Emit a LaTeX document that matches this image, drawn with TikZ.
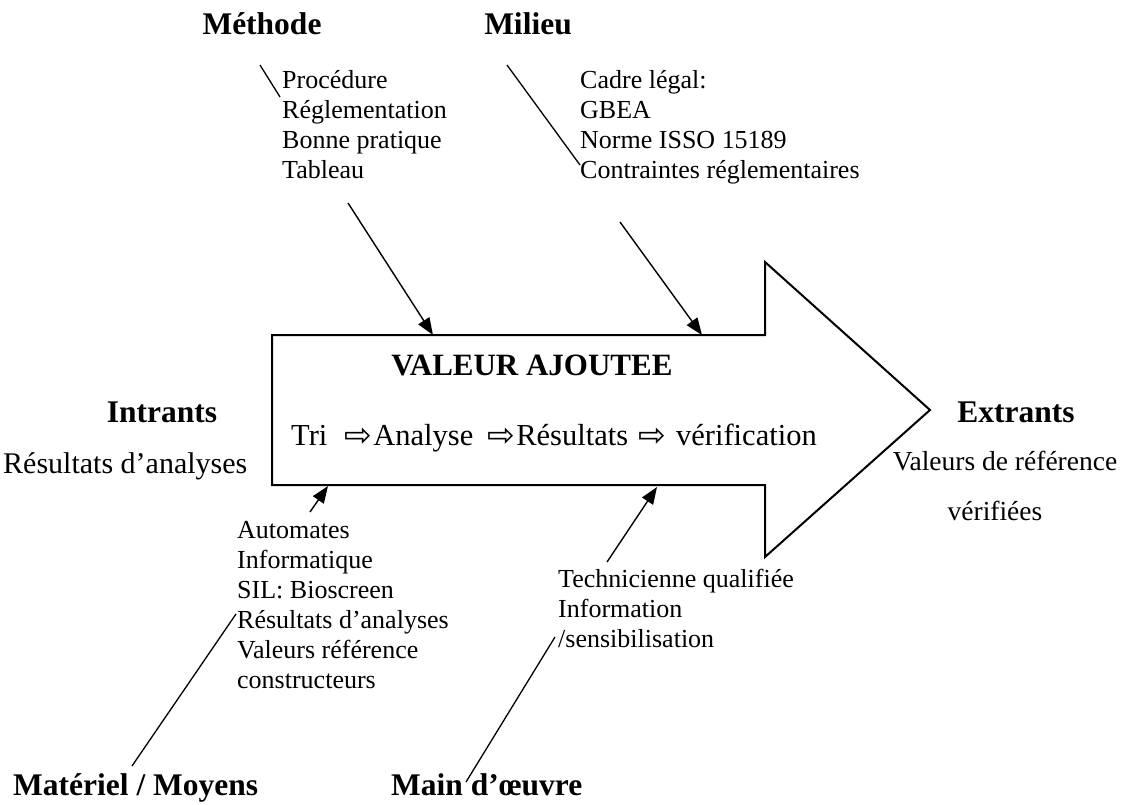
\documentclass[tikz,border=0pt]{standalone}
\usepackage{fontspec}
\setmainfont{Liberation Serif}
\newfontfamily\symfont{DejaVu Sans}
\usetikzlibrary{arrows.meta}
\newcommand\stackL[1]{\vtop{\halign{##\hfil\cr#1\crcr}}}
\newcommand\warr{{\symfont\fontsize{33}{33}\selectfont\raisebox{-1pt}{⇨}}}
\begin{document}
\begin{tikzpicture}[x=1pt,y=-1pt,
  titlebf/.style={font=\fontsize{31.5}{36}\selectfont\bfseries, inner sep=0pt, anchor=base},
  listtxt/.style={font=\fontsize{26}{30}\selectfont, inner sep=0pt, anchor=base west},
  bigtxt/.style={font=\fontsize{30}{34}\selectfont, inner sep=0pt},
  leader/.style={line width=1.3pt},
  inarrow/.style={line width=1.4pt, -{Triangle[length=17pt,width=13pt]}},
  bodyline/.style={line width=2pt, line join=miter}]
\useasboundingbox[fill=white] (0,0) rectangle (1133,805);

% big arrow
\coordinate (bl) at (272,335);
\coordinate (n1) at (765,335);
\coordinate (h1) at (765,262);
\coordinate (tip) at (930,410);
\coordinate (h2) at (765,557);
\coordinate (n2) at (765,485);
\coordinate (br) at (272,485);
\draw[bodyline] (bl) -- (n1) -- (h1) -- (tip) -- (h2) -- (n2) -- (br) -- cycle;

% titles
\node[titlebf] (methode) at (262,35) {Méthode};
\node[titlebf] (milieu) at (528,35) {Milieu};
\node[titlebf, font=\fontsize{31}{36}\selectfont\bfseries] (va) at (532,375) {VALEUR AJOUTEE};
\node[titlebf] (intrants) at (162,422) {Intrants};
\node[titlebf] (extrants) at (1016,422) {Extrants};
\node[titlebf, anchor=base west] (materiel) at (13,795) {Matériel / Moyens};
\node[titlebf, anchor=base west] (mainoeuvre) at (391,795) {Main d’œuvre};

% middle text
\node[bigtxt, anchor=base west, font=\fontsize{30.5}{34}\selectfont] (process) at (291,445)
  {Tri\makebox[46pt][r]{\warr\hspace{1pt}}Analyse\makebox[43pt][r]{\warr\hspace{1pt}}Résultats\makebox[48pt][c]{\warr}vérification};

% left / right texts
\node[bigtxt, anchor=base west] (inres) at (3,473) {Résultats d’analyses};
\node[bigtxt, anchor=base, font=\fontsize{27.5}{30}\selectfont] (outval) at (1005,470) {Valeurs de référence};
\node[bigtxt, anchor=base, font=\fontsize{27.5}{30}\selectfont] (outver) at (995,520) {vérifiées};

% lists
\node[listtxt] (methlist) at (282,89) {\stackL{Procédure\cr Réglementation\cr Bonne pratique\cr Tableau}};
\node[listtxt] (millist) at (580,89) {\stackL{Cadre légal:\cr GBEA\cr Norme ISSO 15189\cr Contraintes réglementaires}};
\node[listtxt] (matlist) at (237,538) {\stackL{Automates\cr Informatique\cr SIL: Bioscreen\cr Résultats d’analyses\cr Valeurs référence\cr constructeurs}};
\node[listtxt] (mainlist) at (558,587) {\stackL{Technicienne qualifiée\cr Information\cr /sensibilisation}};

% leader lines
\coordinate (l1a) at (260,65);  \coordinate (l1b) at (280,97);
\coordinate (l2a) at (507,65);  \coordinate (l2b) at (580,165);
\coordinate (l3a) at (132,766); \coordinate (l3b) at (236,614);
\coordinate (l4a) at (466,782); \coordinate (l4b) at (555,637);
\draw[leader] (l1a) -- (l1b);
\draw[leader] (l2a) -- (l2b);
\draw[leader] (l3a) -- (l3b);
\draw[leader] (l4a) -- (l4b);

% arrows into the body
\coordinate (a1s) at (348,203); \coordinate (a1e) at (433,335);
\coordinate (a2s) at (620,222); \coordinate (a2e) at (702,335);
\coordinate (a3s) at (310,512); \coordinate (a3e) at (328,486);
\coordinate (a4s) at (607,562); \coordinate (a4e) at (657,487);
\draw[inarrow] (a1s) -- (a1e);
\draw[inarrow] (a2s) -- (a2e);
\draw[inarrow] (a3s) -- (a3e);
\draw[inarrow] (a4s) -- (a4e);
\end{tikzpicture}
\end{document}
